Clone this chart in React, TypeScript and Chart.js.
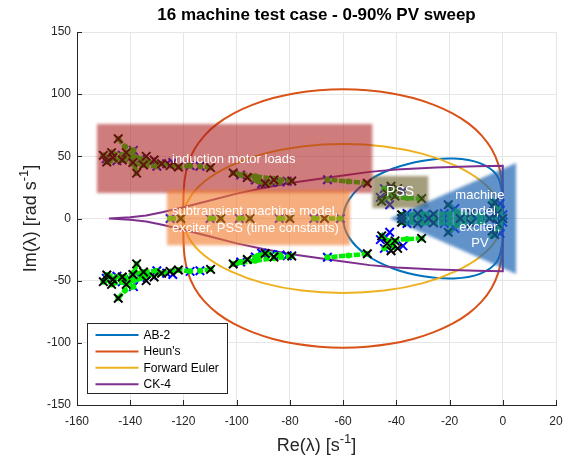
import React, { useEffect, useRef } from "react";
import { Chart, registerables } from "chart.js";

Chart.register(...registerables);

type P = [number, number];

// ---------- axes ----------
const X_TICKS = [-160, -140, -120, -100, -80, -60, -40, -20, 0, 20];
const Y_TICKS = [-150, -100, -50, 0, 50, 100, 150];

// ---------- stability boundaries (upper halves) ----------
const SERIES_NAMES = ["AB-2", "Heun's", "Forward Euler", "CK-4"];
const SERIES_COLORS = ["#0072BD", "#D95319", "#EDB120", "#7E2F8E"];

const AB2_UPPER: P[] = [
  [0, 0], [0, 10.3], [-0.2, 20], [-2.4, 35.2], [-8.6, 44.5], [-18.3, 48.2],
  [-29.9, 46.5], [-41.5, 40], [-51.3, 29.2], [-57.7, 15.4], [-60, 0],
];
const HEUN_UPPER: P[] = [
  [0, 0], [0, 15.5], [-0.4, 30.2], [-1.7, 43.7], [-4.2, 55.8], [-7.9, 66.7],
  [-12.8, 76.3], [-18.9, 84.6], [-25.9, 91.4], [-33.7, 96.9], [-42.1, 100.8],
  [-51, 103.1], [-60, 103.9], [-69, 103.1], [-77.9, 100.8], [-86.3, 96.9],
  [-94.1, 91.4], [-101.1, 84.6], [-107.2, 76.3], [-112.1, 66.7], [-115.8, 55.8],
  [-118.3, 43.7], [-119.6, 30.2], [-120, 15.5], [-120, 0],
];
const EULER_UPPER: P[] = [
  [0, 0], [-2, 15.5], [-8, 30], [-17.6, 42.4], [-30, 52], [-44.5, 58], [-60, 60],
  [-75.5, 58], [-90, 52], [-102.4, 42.4], [-112, 30], [-118, 15.5], [-120, 0],
];
const CK4_UPPER: P[] = [
  [0, 0], [0, 42.5], [-10, 42], [-25, 41], [-40, 39.5], [-50, 37.5], [-60, 34.5],
  [-70, 31.5], [-80, 28.5], [-90, 24.5], [-100, 20], [-110, 14.5], [-120, 9],
  [-128, 5], [-134, 2.5], [-140, 1], [-148, 0],
];

// ---------- eigenvalues (lower half-plane; conjugates are mirrored) ----------
const EIG_START: P[] = [
  [-50.9, -28.3], [-79.3, -30.2], [-89.3, -28.2], [-101.3, -36.6], [-109.8, -40.9],
  [-121.9, -41.4], [-128.2, -44], [-137.6, -36.5], [-144.5, -64.2], [-148.8, -45.4],
  [-150.1, -50.8], [-146.5, -49], [-141.5, -53], [-134, -50], [-30.5, -16],
  [-39.5, -24], [-45.5, -14], [-42, -26], [-20.5, -11], [-3, -13],
  [-147, -53], [-143, -47], [-139, -45], [-135, -43], [-131, -47], [-125, -42.5],
  [-96, -33], [-86, -31], [-43.5, -20], [-40.5, -18],
  [-38, -3], [-32, -4], [-26, -3.5], [-12, -4], [-4, -10], [-2, -4],
];
const EIG_END: P[] = [
  [-65.9, -31.2], [-83.7, -29.4], [-90.6, -28], [-98.5, -35], [-113.8, -42],
  [-126.3, -44], [-132, -45.4], [-138.8, -54.8], [-145, -46.5], [-140, -49],
  [-46, -17], [-42.5, -11], [-37.5, -22], [-44.5, -24], [-18, -8], [-1, -7],
  [-149, -48], [-143, -51], [-136, -48], [-130, -42], [-124, -45], [-117.5, -42.5],
  [-93, -31], [-87, -29], [-81, -30], [-41, -21], [-44, -15],
  [-36, -4], [-29, -3], [-22, -4], [-8, -3], [-1, -12], [0, -3],
];
const EIG_TRAILS: P[][] = [
  [[-50.9, -28.3], [-58, -29.8], [-65.9, -31.2]],
  [[-79.3, -30.2], [-86, -32], [-93, -34], [-101.3, -36.6]],
  [[-83.7, -29.4], [-89.3, -28.2], [-92, -30], [-98.5, -35]],
  [[-109.8, -40.9], [-113.8, -42]],
  [[-117.5, -42.5], [-121.9, -41.4], [-128.2, -44], [-134, -46], [-140, -50], [-146, -48.5], [-150.1, -50.8]],
  [[-137.6, -36.5], [-138.5, -43], [-140, -49]],
  [[-144.5, -64.2], [-142, -58], [-138.8, -54.8]],
  [[-148.8, -45.4], [-143, -47], [-139, -45], [-135, -43], [-130, -42]],
  [[-147, -53], [-143, -51], [-141.5, -53], [-136, -48]],
  [[-30.5, -16], [-36, -16.5], [-43, -18]],
  [[-45.5, -14], [-43, -19], [-41, -23]],
  [[-44.5, -24], [-42, -21], [-40.5, -18]],
  [[-20.5, -11], [-17, -5], [-16, 0]],
  [[-3, -13], [-1, -6], [0, 0]],
  [[-38, -3], [-30, -3.5], [-20, -4], [-8, -3]],
  [[-4, -14], [-2, -9], [-1, -4]],
];
// real eigenvalues
const REAL_START = [-121, -106, -95, -80, -67, -38, -28, -16, -5, 0];
const REAL_END = [-125, -110, -99, -84, -71, -61, -34, -22, -10, -2];
const REAL_TRAILS: number[][] = [
  [-125, -121], [-110, -106], [-99, -95], [-84, -80], [-71, -61], [-38, 0],
];

// ---------- annotations (data coordinates) ----------
const BOX_MOTOR = { x0: -152.5, x1: -49, y0: 20.5, y1: 76, color: "rgba(170,30,30,0.58)" };
const BOX_SUBTR = { x0: -126.2, x1: -57.4, y0: -21.5, y1: 23, color: "rgba(240,120,40,0.6)" };
const BOX_PSS = { x0: -49, x1: -28, y0: 8.4, y1: 34.2, color: "rgba(110,98,45,0.62)" };
const TRI_MACHINE = { tip: [-42.4, 0] as P, x1: 5, yTop: 44.6, yBot: -44.6, color: "rgba(30,100,180,0.7)" };

const LABEL_MOTOR = "induction motor loads";
const LABEL_SUBTR = ["subtransient machine model,", "exciter, PSS (time constants)"];
const LABEL_PSS = "PSS";
const LABEL_MACHINE = ["machine", "model,", "exciter,", "PV"];

const TITLE = "16 machine test case - 0-90% PV sweep";

const FONT = '"Liberation Sans", Arial, Helvetica, sans-serif';

const toPts = (a: P[]) => a.map(([x, y]) => ({ x, y }));
const mirror = (a: P[]) => a.map(([x, y]) => [x, -y] as P);
const closeLoop = (u: P[]): P[] => [...u, ...u.slice(0, -1).reverse().map(([a, b]) => [a, -b] as P)];

function drawSupText(ctx: CanvasRenderingContext2D, parts: [string, string, string], size: number) {
  const [a, sup, b] = parts;
  ctx.font = `${size}px ${FONT}`;
  const wa = ctx.measureText(a).width;
  ctx.font = `${Math.round(size * 0.7)}px ${FONT}`;
  const ws = ctx.measureText(sup).width;
  ctx.font = `${size}px ${FONT}`;
  const wb = ctx.measureText(b).width;
  const total = wa + ws + wb;
  let x = -total / 2;
  ctx.fillText(a, x, 0);
  x += wa;
  ctx.font = `${Math.round(size * 0.7)}px ${FONT}`;
  ctx.fillText(sup, x, -size * 0.42);
  x += ws;
  ctx.font = `${size}px ${FONT}`;
  ctx.fillText(b, x, 0);
}

const decor = {
  id: "decor",
  beforeDatasetsDraw(chart: any) {
    const { ctx, chartArea: a, scales } = chart;
    ctx.save();
    ctx.strokeStyle = "#262626";
    ctx.lineWidth = 1;
    ctx.beginPath();
    for (const v of X_TICKS) {
      const p = Math.round(scales.x.getPixelForValue(v)) + 0.5;
      ctx.moveTo(p, a.bottom);
      ctx.lineTo(p, a.bottom - 5);
    }
    for (const v of Y_TICKS) {
      const p = Math.round(scales.y.getPixelForValue(v)) + 0.5;
      ctx.moveTo(a.left, p);
      ctx.lineTo(a.left + 5, p);
    }
    ctx.stroke();
    ctx.restore();
  },
  afterDatasetsDraw(chart: any) {
    const { ctx, chartArea: a, scales } = chart;
    const px = (v: number) => scales.x.getPixelForValue(v);
    const py = (v: number) => scales.y.getPixelForValue(v);
    ctx.save();
    ctx.beginPath();
    ctx.rect(a.left, a.top, a.right - a.left, a.bottom - a.top);
    ctx.clip();
    ctx.filter = "blur(1.5px)";
    for (const b of [BOX_MOTOR, BOX_SUBTR, BOX_PSS]) {
      ctx.fillStyle = b.color;
      ctx.fillRect(px(b.x0), py(b.y1), px(b.x1) - px(b.x0), py(b.y0) - py(b.y1));
    }
    ctx.fillStyle = TRI_MACHINE.color;
    ctx.beginPath();
    ctx.moveTo(px(TRI_MACHINE.tip[0]), py(TRI_MACHINE.tip[1]));
    ctx.lineTo(px(TRI_MACHINE.x1), py(TRI_MACHINE.yTop));
    ctx.lineTo(px(TRI_MACHINE.x1), py(TRI_MACHINE.yBot));
    ctx.closePath();
    ctx.fill();
    ctx.filter = "none";

    ctx.fillStyle = "#ffffff";
    ctx.font = `13px ${FONT}`;
    ctx.textBaseline = "middle";
    ctx.textAlign = "left";
    ctx.fillText(LABEL_MOTOR, px(-124.3), py(47.9));
    ctx.fillText(LABEL_SUBTR[0], px(-124.3), py(5.5));
    ctx.fillText(LABEL_SUBTR[1], px(-124.3), py(-7.9));
    ctx.textAlign = "center";
    ctx.font = `14px ${FONT}`;
    ctx.fillText(LABEL_PSS, px(-38.6), py(21));
    ctx.font = `13px ${FONT}`;
    const my = [18.9, 5.5, -7.2, -20];
    LABEL_MACHINE.forEach((t, i) => ctx.fillText(t, px(-8.6), py(my[i])));
    ctx.restore();

    // legend
    ctx.save();
    const lx = a.left + 10.5, ly = a.top + 291.5, lw = 140, lh = 70;
    ctx.fillStyle = "#fff";
    ctx.fillRect(lx, ly, lw, lh);
    ctx.strokeStyle = "#262626";
    ctx.lineWidth = 1;
    ctx.strokeRect(lx, ly, lw, lh);
    ctx.font = `12px ${FONT}`;
    ctx.textBaseline = "middle";
    ctx.textAlign = "left";
    SERIES_NAMES.forEach((n, i) => {
      const yy = ly + 11.5 + i * 16.4;
      ctx.strokeStyle = SERIES_COLORS[i];
      ctx.lineWidth = 2;
      ctx.beginPath();
      ctx.moveTo(lx + 8, yy);
      ctx.lineTo(lx + 51, yy);
      ctx.stroke();
      ctx.fillStyle = "#000";
      ctx.fillText(n, lx + 56, yy + 0.5);
    });
    ctx.restore();
  },
  afterDraw(chart: any) {
    const { ctx, chartArea: a } = chart;
    const cx = (a.left + a.right) / 2;
    ctx.save();
    ctx.fillStyle = "#000";
    ctx.font = `bold 17px ${FONT}`;
    ctx.textAlign = "center";
    ctx.textBaseline = "alphabetic";
    ctx.fillText(TITLE, cx, 20);

    ctx.fillStyle = "#262626";
    ctx.textAlign = "left";
    ctx.save();
    ctx.translate(cx, 451);
    drawSupText(ctx, ["Re(λ) [s", "-1", "]"], 18);
    ctx.restore();
    ctx.save();
    ctx.translate(36, (a.top + a.bottom) / 2);
    ctx.rotate(-Math.PI / 2);
    drawSupText(ctx, ["Im(λ) [rad s", "-1", "]"], 18);
    ctx.restore();
    ctx.restore();
  },
};

export default function App() {
  const ref = useRef<HTMLCanvasElement | null>(null);
  useEffect(() => {
    if (!ref.current) return;
    const datasets: any[] = [];
    const curves = [AB2_UPPER, HEUN_UPPER, EULER_UPPER, CK4_UPPER];
    curves.forEach((u, i) => {
      datasets.push({
        label: SERIES_NAMES[i],
        data: toPts(closeLoop(u)),
        showLine: true,
        borderColor: SERIES_COLORS[i],
        borderWidth: 2,
        pointRadius: 0,
        tension: i === 3 ? 0 : 0.4,
        fill: false,
        order: 10 - i,
      });
    });
    const trails: P[][] = [
      ...EIG_TRAILS,
      ...EIG_TRAILS.map(mirror),
      ...REAL_TRAILS.map((t) => t.map((x) => [x, 0] as P)),
    ];
    trails.forEach((t) =>
      datasets.push({
        data: toPts(t),
        showLine: true,
        borderColor: "#00ee00",
        borderWidth: 4.5,
        borderDash: [6, 1.5],
        pointRadius: 3,
        pointBackgroundColor: "#00ee00",
        pointBorderWidth: 0,
        tension: 0.3,
        order: 3,
      })
    );
    const ends: P[] = [...EIG_END, ...mirror(EIG_END), ...REAL_END.map((x) => [x, 0] as P)];
    const starts: P[] = [...EIG_START, ...mirror(EIG_START), ...REAL_START.map((x) => [x, 0] as P)];
    datasets.push({
      data: toPts(ends),
      pointStyle: "crossRot",
      pointRadius: 6,
      pointBorderWidth: 2,
      pointBorderColor: "#0000ff",
      showLine: false,
      order: 4,
    });
    datasets.push({
      data: toPts(starts),
      pointStyle: "crossRot",
      pointRadius: 6,
      pointBorderWidth: 2,
      pointBorderColor: "#000000",
      showLine: false,
      order: 1,
    });

    const tickFont = { family: FONT, size: 12 };
    const chart = new Chart(ref.current, {
      type: "scatter",
      data: { datasets },
      options: {
        responsive: false,
        animation: false,
        events: [],
        layout: { padding: { top: 32, right: 22, left: 0, bottom: 0 } },
        plugins: { legend: { display: false }, tooltip: { enabled: false } },
        scales: {
          x: {
            type: "linear",
            min: -160,
            max: 20,
            afterFit: (s: any) => { s.height = 59; },
            afterBuildTicks: (s: any) => { s.ticks = X_TICKS.map((v) => ({ value: v })); },
            ticks: { font: tickFont, color: "#262626", padding: 9, maxRotation: 0, autoSkip: false },
            grid: { color: "#e6e6e6", drawTicks: false, lineWidth: 1 },
            border: { display: true, color: "#262626", width: 1 },
          },
          y: {
            type: "linear",
            min: -150,
            max: 150,
            afterFit: (s: any) => { s.width = 77; },
            afterBuildTicks: (s: any) => { s.ticks = Y_TICKS.map((v) => ({ value: v })); },
            ticks: { font: tickFont, color: "#262626", padding: 6, autoSkip: false },
            grid: { color: "#e6e6e6", drawTicks: false, lineWidth: 1 },
            border: { display: true, color: "#262626", width: 1 },
          },
        },
      } as any,
      plugins: [decor],
    });
    return () => chart.destroy();
  }, []);
  return (
    <div style={{ position: "fixed", left: 0, top: 0, width: 578, height: 464, background: "#fff" }}>
      <canvas ref={ref} width={578} height={464} style={{ display: "block" }} />
    </div>
  );
}
